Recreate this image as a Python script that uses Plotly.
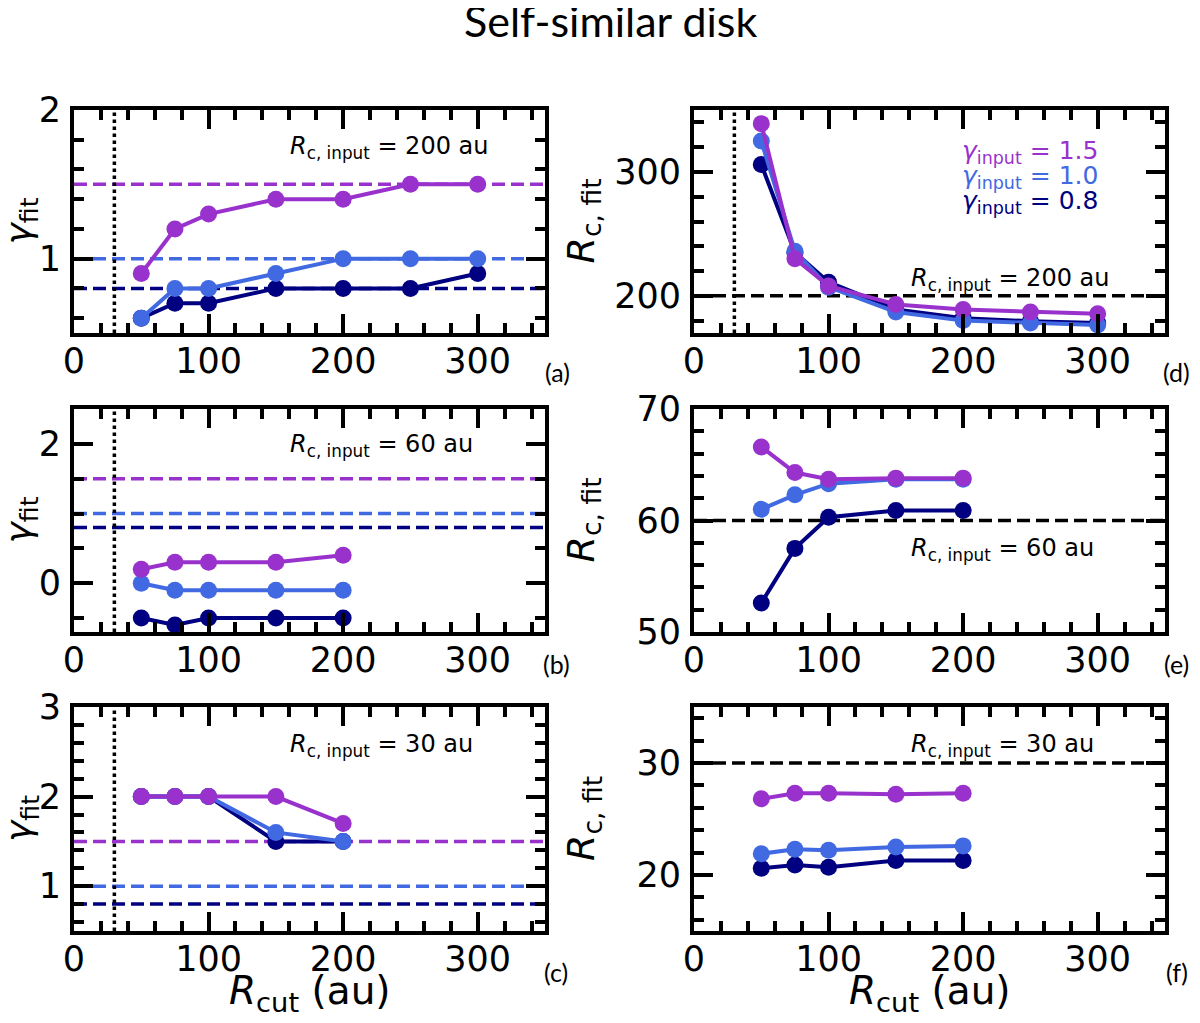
import plotly.graph_objects as go

# ---------------- data ----------------
rcut_long = [50, 75, 100, 150, 200, 250, 300]
rcut_short = [50, 75, 100, 150, 200]

gamma_inputs = [1.5, 1.0, 0.8]
rc_inputs = [200, 60, 30]
r_inner = 30

# panel (a): gamma_fit, Rc,input = 200 au
a_g15 = [0.9, 1.2, 1.3, 1.4, 1.4, 1.5, 1.5]
a_g10 = [0.6, 0.8, 0.8, 0.9, 1.0, 1.0, 1.0]
a_g08 = [0.6, 0.7, 0.7, 0.8, 0.8, 0.8, 0.9]
# panel (d): Rc_fit, Rc,input = 200 au
d_g15 = [339, 230, 208, 193, 189, 187, 185.5]
d_g10 = [325, 236, 207, 187, 180, 178, 176.5]
d_g08 = [306, 235, 211, 189, 182, 179.5, 178]
# panel (b): gamma_fit, Rc,input = 60 au
b_g15 = [0.2, 0.3, 0.3, 0.3, 0.4]
b_g10 = [0.0, -0.1, -0.1, -0.1, -0.1]
b_g08 = [-0.5, -0.6, -0.5, -0.5, -0.5]
# panel (e): Rc_fit, Rc,input = 60 au
e_g15 = [66.6, 64.3, 63.7, 63.8, 63.8]
e_g10 = [61.0, 62.3, 63.3, 63.7, 63.7]
e_g08 = [52.6, 57.5, 60.3, 60.9, 60.9]
# panel (c): gamma_fit, Rc,input = 30 au
c_g15 = [2.0, 2.0, 2.0, 2.0, 1.7]
c_g10 = [2.0, 2.0, 2.0, 1.6, 1.5]
c_g08 = [2.0, 2.0, 2.0, 1.5, 1.5]
# panel (f): Rc_fit, Rc,input = 30 au
f_g15 = [26.8, 27.3, 27.3, 27.2, 27.3]
f_g10 = [21.9, 22.3, 22.2, 22.5, 22.6]
f_g08 = [20.6, 20.9, 20.7, 21.3, 21.3]

x_range = [0, 350]
y_ranges = {
    "a": [0.5, 2.0], "d": [170, 350],
    "b": [-0.7, 2.5], "e": [50, 70],
    "c": [0.5, 3.0], "f": [15, 35],
}
y_dticks = {"a": (1, 0.2), "d": (100, 20), "b": (2, 0.5), "e": (10, 2), "c": (1, 0.2), "f": (10, 2)}

# ---------------- style / layout helpers ----------------
colors = {1.5: "#9932CC", 1.0: "#4169E1", 0.8: "#000080"}
OFF = 8                      # page body margin
W, H = 1200 - 2 * OFF, 1023 - 2 * OFF


def px(x):
    return (x - OFF) / W


def py(y):
    return 1 - (y - OFF) / H


LW = 4
left_dom = [px(74), px(545)]
right_dom = [px(694), px(1165)]
rows_px = [(110, 333), (409, 632), (707, 931)]
row_dom = [[py(b), py(t)] for t, b in rows_px]
FONT = "DejaVu Sans"

panels = [
    ("a", "", left_dom, 0, rcut_long, (a_g15, a_g10, a_g08), "gamma", rc_inputs[0]),
    ("d", "2", right_dom, 0, rcut_long, (d_g15, d_g10, d_g08), "rc", rc_inputs[0]),
    ("b", "3", left_dom, 1, rcut_short, (b_g15, b_g10, b_g08), "gamma", rc_inputs[1]),
    ("e", "4", right_dom, 1, rcut_short, (e_g15, e_g10, e_g08), "rc", rc_inputs[1]),
    ("c", "5", left_dom, 2, rcut_short, (c_g15, c_g10, c_g08), "gamma", rc_inputs[2]),
    ("f", "6", right_dom, 2, rcut_short, (f_g15, f_g10, f_g08), "rc", rc_inputs[2]),
]

fig = go.Figure()
shapes = []
annotations = []
layout = {}

for key, sfx, cdom, ridx, xs, series, kind, rc_in in panels:
    xa = "x" + sfx
    ya = "y" + sfx
    # draw order: 0.8 first, then 1.0, then 1.5 on top
    for g, ys in zip([0.8, 1.0, 1.5], [series[2], series[1], series[0]]):
        fig.add_trace(go.Scatter(
            x=xs, y=ys, xaxis=xa, yaxis=ya, mode="lines+markers",
            line=dict(color=colors[g], width=4),
            marker=dict(color=colors[g], size=17),
            showlegend=False, cliponaxis=False,
        ))
    dmaj, dmin = y_dticks[key]
    common = dict(
        showline=True, linewidth=LW, linecolor="black", mirror="allticks",
        ticks="inside", ticklen=19, tickwidth=3.5, tickcolor="black",
        showgrid=False, zeroline=False, automargin=False,
        tickfont=dict(family=FONT, size=35, color="black"),
    )
    layout["xaxis" + sfx] = dict(
        common, domain=cdom, range=x_range, anchor=ya, tick0=0, dtick=100,
        ticklabelstandoff=-6,
        minor=dict(ticks="inside", ticklen=10, tickwidth=3.5, tickcolor="black", dtick=20, tick0=0, showgrid=False),
    )
    layout["yaxis" + sfx] = dict(
        common, domain=row_dom[ridx], range=y_ranges[key], anchor=xa, tick0=0, dtick=dmaj,
        ticklabelstandoff=2,
        minor=dict(ticks="inside", ticklen=10, tickwidth=3.5, tickcolor="black", dtick=dmin, tick0=0, showgrid=False),
    )
    # reference lines
    if kind == "gamma":
        for g in gamma_inputs:
            shapes.append(dict(type="line", xref=xa + " domain", yref=ya, x0=0, x1=1, y0=g, y1=g,
                               line=dict(color=colors[g], width=3.5, dash="13px,6px"), layer="below"))
    else:
        shapes.append(dict(type="line", xref=xa + " domain", yref=ya, x0=0, x1=1, y0=rc_in, y1=rc_in,
                           line=dict(color="black", width=3.5, dash="13px,6px"), layer="below"))
    if key in ("a", "b", "c", "d"):
        shapes.append(dict(type="line", xref=xa, yref=ya + " domain", x0=r_inner, x1=r_inner, y0=0, y1=1,
                           line=dict(color="black", width=3.5, dash="dot"), layer="below"))

# Rc,input annotations (pixel positions)
rc_ann_pos = {"a": (288, 147), "d": (909, 279), "b": (288, 445), "e": (909, 549), "c": (288, 745), "f": (909, 745)}
for key, sfx, cdom, ridx, xs, series, kind, rc_in in panels:
    ax_, ay_ = rc_ann_pos[key]
    annotations.append(dict(
        xref="paper", yref="paper", x=px(ax_), y=py(ay_), xanchor="left", yanchor="middle",
        text=f"<i>R</i><sub>c, input</sub> = {rc_in} au", showarrow=False,
        font=dict(family=FONT, size=24, color="black"),
    ))

# legend texts in panel (d)
for i, g in enumerate(gamma_inputs):
    annotations.append(dict(
        xref="paper", yref="paper", x=px(1100), y=py(152 + 25 * i), xanchor="right", yanchor="middle",
        text=f"<i>γ</i><sub>input</sub> = {g:.1f}", showarrow=False,
        font=dict(family=FONT, size=25, color=colors[g]),
    ))

# panel letters
letters = [("(a)", 557, 372), ("(d)", 1176, 372), ("(b)", 556, 664), ("(e)", 1176, 664), ("(c)", 556, 972), ("(f)", 1177, 972)]
for t, lx, ly in letters:
    annotations.append(dict(xref="paper", yref="paper", x=px(lx), y=py(ly), xanchor="center", yanchor="middle",
                            text=t, showarrow=False, font=dict(family="Lato", size=25, color="black")))

# y-axis titles
for ridx, (t, b) in enumerate(rows_px):
    cy = (t + b) / 2
    annotations.append(dict(xref="paper", yref="paper", x=px(21), y=py(cy), xanchor="center", yanchor="middle",
                            text="<i>γ</i><sub>fit</sub>", textangle=-90, showarrow=False,
                            font=dict(family=FONT, size=36, color="black")))
    annotations.append(dict(xref="paper", yref="paper", x=px(583), y=py(cy), xanchor="center", yanchor="middle",
                            text="<i>R</i><sub>c, fit</sub>", textangle=-90, showarrow=False,
                            font=dict(family=FONT, size=38, color="black")))

# x-axis titles
for cx in [(74 + 545) / 2, (694 + 1165) / 2]:
    annotations.append(dict(xref="paper", yref="paper", x=px(cx), y=py(993), xanchor="center", yanchor="middle",
                            text="<i>R</i><sub>cut</sub> (au)", showarrow=False,
                            font=dict(family=FONT, size=39, color="black")))

# main title
annotations.append(dict(xref="paper", yref="paper", x=px(610), y=py(20), xanchor="center", yanchor="middle",
                        text="Self-similar disk", showarrow=False,
                        font=dict(family="Lato", size=43, color="black")))

fig.update_layout(
    template="none",
    width=W, height=H,
    margin=dict(l=0, r=0, t=0, b=0, autoexpand=False),
    paper_bgcolor="white", plot_bgcolor="white",
    shapes=shapes, annotations=annotations,
    **layout,
)

fig.write_html("out.html")
